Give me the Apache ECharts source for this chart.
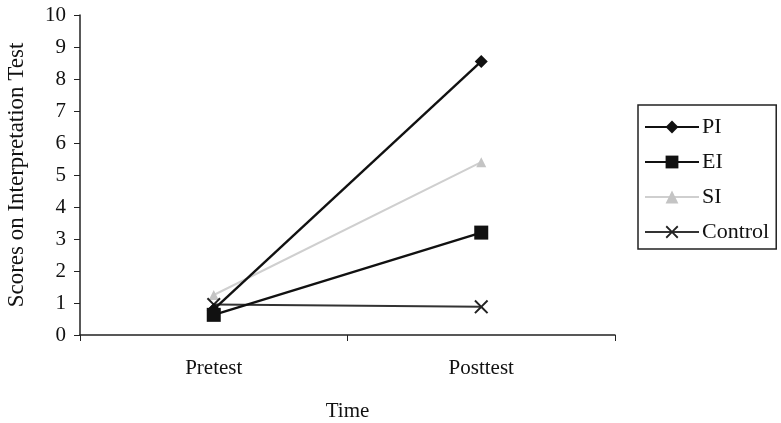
<!DOCTYPE html>
<html>
<head>
<meta charset="utf-8">
<script src="https://cdn.jsdelivr.net/npm/echarts@6/dist/echarts.min.js"></script>
<style>
  html, body { margin: 0; padding: 0; background: #fff; }
  #chart { width: 781px; height: 423px; }
</style>
</head>
<body>
<div id="chart"></div>
<script>
// Test occasions on the x axis
const categories = ['Pretest', 'Posttest'];
// Mean interpretation-test scores per group
const piScores = [0.8, 8.55];
const eiScores = [0.63, 3.2];
const siScores = [1.25, 5.4];
const controlScores = [0.95, 0.88];
const yTicks = [0, 10, 1];

const serif = 'Liberation Serif, Times New Roman, serif';
// Thin "X" cross drawn as a filled outline
const crossPath = 'path://M0,1 L1,0 L5,4 L9,0 L10,1 L6,5 L10,9 L9,10 L5,6 L1,10 L0,9 L4,5 Z';

const chart = echarts.init(document.getElementById('chart'));
chart.setOption({
  animation: false,
  backgroundColor: '#ffffff',
  grid: { left: 80, top: 15, width: 535, height: 320, containLabel: false, outerBoundsMode: 'none' },
  legend: {
    orient: 'vertical',
    left: 638, top: 105,
    padding: [11, 7, 6, 6],
    itemGap: 13,
    itemWidth: 54,
    itemHeight: 16,
    borderColor: '#222', borderWidth: 1.5,
    textStyle: { fontFamily: serif, fontSize: 22, color: '#111', padding: [0, 0, 0, -2] },
    data: ['PI', 'EI', 'SI', 'Control']
  },
  xAxis: {
    type: 'category',
    data: categories,
    boundaryGap: true,
    name: 'Time',
    nameLocation: 'middle',
    nameGap: 66,
    nameTextStyle: { fontFamily: serif, fontSize: 21, color: '#111' },
    axisLine: { lineStyle: { color: '#222', width: 1.5 } },
    axisTick: { show: true, length: 6, lineStyle: { color: '#222' } },
    axisLabel: { fontFamily: serif, fontSize: 21, color: '#111', margin: 23 }
  },
  yAxis: {
    type: 'value',
    min: yTicks[0], max: yTicks[1], interval: yTicks[2],
    name: 'Scores on Interpretation Test',
    nameLocation: 'middle',
    nameGap: 52,
    nameTextStyle: { fontFamily: serif, fontSize: 23, color: '#111' },
    axisLine: { show: true, lineStyle: { color: '#222', width: 1.5 } },
    axisTick: { show: true, length: 6, lineStyle: { color: '#222' } },
    axisLabel: { fontFamily: serif, fontSize: 21, color: '#111', margin: 14 },
    splitLine: { show: false }
  },
  series: [
    {
      name: 'PI', type: 'line', data: piScores,
      symbol: 'diamond', symbolSize: 13,
      itemStyle: { color: '#111' }, lineStyle: { color: '#111', width: 2.4 }, z: 4
    },
    {
      name: 'EI', type: 'line', data: eiScores,
      symbol: 'rect', symbolSize: 14,
      itemStyle: { color: '#111' }, lineStyle: { color: '#111', width: 2.4 }, z: 5
    },
    {
      name: 'SI', type: 'line', data: siScores,
      symbol: 'triangle', symbolSize: 10,
      itemStyle: { color: '#c4c4c4' }, lineStyle: { color: '#cfcfcf', width: 2 }, z: 2
    },
    {
      name: 'Control', type: 'line', data: controlScores,
      symbol: crossPath, symbolSize: 14,
      itemStyle: { color: '#222' }, lineStyle: { color: '#333', width: 2 }, z: 3
    }
  ]
});
</script>
</body>
</html>
